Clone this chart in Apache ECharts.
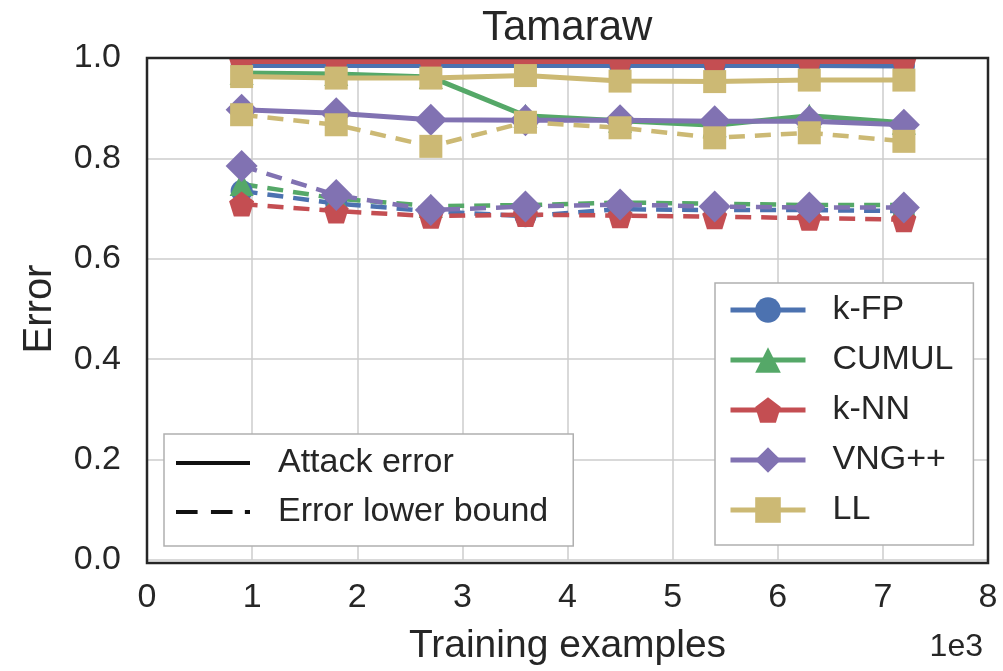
<!DOCTYPE html>
<html><head><meta charset="utf-8">
<script src="https://cdn.jsdelivr.net/npm/echarts@6/dist/echarts.min.js"></script>
<style>html,body{margin:0;padding:0;background:#fff}#c{width:1003px;height:671px}</style>
</head><body><div id="c"></div>
<script>
// ---- data ----
const trainingExamples = [900, 1800, 2700, 3600, 4500, 5400, 6300, 7200];
const xTickLabels = ['0','1','2','3','4','5','6','7','8'];
const yTickLabels = ['0.0','0.2','0.4','0.6','0.8','1.0'];
const methods = ['k-FP', 'CUMUL', 'k-NN', 'VNG++', 'LL'];

const kfpAttack   = [0.985, 0.985, 0.985, 0.985, 0.985, 0.985, 0.985, 0.984];
const kfpBound    = [0.735, 0.710, 0.695, 0.685, 0.699, 0.697, 0.697, 0.695];
const cumulAttack = [0.970, 0.968, 0.962, 0.885, 0.875, 0.866, 0.885, 0.871];
const cumulBound  = [0.749, 0.720, 0.705, 0.707, 0.712, 0.710, 0.707, 0.707];
const knnAttack   = [0.993, 0.993, 0.993, 0.993, 0.993, 0.993, 0.993, 0.993];
const knnBound    = [0.709, 0.695, 0.685, 0.688, 0.686, 0.684, 0.681, 0.678];
const vngAttack   = [0.897, 0.890, 0.877, 0.876, 0.876, 0.874, 0.874, 0.867];
const vngBound    = [0.785, 0.727, 0.697, 0.704, 0.708, 0.704, 0.702, 0.702];
const llAttack    = [0.963, 0.960, 0.960, 0.965, 0.954, 0.953, 0.956, 0.956];
const llBound     = [0.887, 0.867, 0.824, 0.872, 0.861, 0.841, 0.851, 0.834];

const styleLegend = ['Attack error', 'Error lower bound'];

// ---- styling ----
const FONT = 'Liberation Sans, Arial, sans-serif';
const TXT = '#262626';
const colors = ['#4C72B0', '#55A868', '#C44E52', '#8172B2', '#CCB974'];
const pentagon = 'path://M0,-1 L0.951,-0.309 L0.588,0.809 L-0.588,0.809 L-0.951,-0.309 Z';
const symbols = ['circle', 'triangle', pentagon, 'diamond', 'rect'];
const symbolSizes = [22, 24, 25, 32, 23];
const attackData = [kfpAttack, cumulAttack, knnAttack, vngAttack, llAttack];
const boundData = [kfpBound, cumulBound, knnBound, vngBound, llBound];

function pairs(vals) { return trainingExamples.map((x, i) => [x, vals[i]]); }

const series = [];
methods.forEach((m, k) => {
  [[attackData[k], 'solid', 5], [boundData[k], [16, 10], 4.5]].forEach(([vals, type, w]) => {
    series.push({
      name: m, type: 'line', data: pairs(vals),
      symbol: symbols[k], symbolSize: symbolSizes[k], showSymbol: true,
      color: colors[k],
      lineStyle: { color: colors[k], width: w, type: type },
      itemStyle: { color: colors[k], borderWidth: 0 },
      emphasis: { disabled: true }, z: 2
    });
  });
});
series.push({ name: styleLegend[0], type: 'line', data: [], color: '#111',
  lineStyle: { color: '#111', width: 4 }, itemStyle: { color: '#111' }, symbol: 'none' });
series.push({ name: styleLegend[1], type: 'line', data: [], color: '#111',
  lineStyle: { color: '#111', width: 4, type: [16, 10] }, itemStyle: { color: '#111' }, symbol: 'none' });

const G = { left: 147, top: 58, width: 841, height: 505 };

const chart = echarts.init(document.getElementById('c'), null, { renderer: 'canvas' });
chart.setOption({
  animation: false,
  backgroundColor: '#fff',
  textStyle: { fontFamily: FONT },
  title: [
    { text: 'Tamaraw', left: 477, top: 2, z: 70, textStyle: { fontFamily: FONT, fontSize: 42, fontWeight: 'normal', color: TXT } },
    { text: '1e3', right: 15, top: 626, textStyle: { fontFamily: FONT, fontSize: 32, fontWeight: 'normal', color: TXT } }
  ],
  grid: { left: G.left, top: G.top, width: G.width, height: G.height, containLabel: false },
  xAxis: {
    type: 'value', min: 0, max: 8000, interval: 1000,
    name: 'Training examples', nameLocation: 'middle', nameGap: 67,
    nameTextStyle: { fontFamily: FONT, fontSize: 39, color: TXT },
    axisLine: { show: false }, axisTick: { show: false },
    axisLabel: { fontFamily: FONT, fontSize: 34, color: TXT, margin: 21,
      formatter: v => xTickLabels[Math.round(v / 1000)] },
    splitLine: { show: true, lineStyle: { color: '#cccccc', width: 1.5 } }
  },
  yAxis: {
    type: 'value', min: 0, max: 1, interval: 0.2,
    name: 'Error', nameLocation: 'middle', nameGap: 87,
    nameTextStyle: { fontFamily: FONT, fontSize: 40, color: TXT },
    axisLine: { show: false }, axisTick: { show: false },
    axisLabel: { fontFamily: FONT, fontSize: 34, color: TXT, margin: 26,
      formatter: v => yTickLabels[Math.round(v / 0.2)] },
    splitLine: { show: true, lineStyle: { color: '#cccccc', width: 1.5 } }
  },
  legend: [
    {
      data: methods, orient: 'vertical', left: 715, top: 283,
      itemWidth: 75, itemHeight: 32, itemGap: 16,
      padding: [10, 20, 18, 13],
      backgroundColor: '#fff', borderColor: '#b0b0b0', borderWidth: 1.5, borderRadius: 0,
      selectedMode: false,
      lineStyle: { width: 5 },
      textStyle: { fontFamily: FONT, fontSize: 34, color: TXT, lineHeight: 34, padding: [0, 0, 0, 22] }
    },
    {
      data: [
        { name: styleLegend[0], icon: 'path://M0,0h74v4h-74z' },
        { name: styleLegend[1], icon: 'path://M0,0h21v4h-21z M34,0h21v4h-21z M67,0h5v4h-5z' }
      ],
      orient: 'vertical', left: 164, top: 434,
      itemWidth: 74, itemHeight: 5, itemGap: 15,
      padding: [12, 25, 17, 12],
      backgroundColor: '#fff', borderColor: '#b0b0b0', borderWidth: 1.5, borderRadius: 0,
      selectedMode: false,
      textStyle: { fontFamily: FONT, fontSize: 34, color: TXT, lineHeight: 34, padding: [0, 0, 0, 23] }
    }
  ],
  graphic: [
    { type: 'rect', z: 50, silent: true, shape: { x: 135, y: 44, width: 866, height: 13 }, style: { fill: '#fff' } },
    { type: 'rect', z: 60, silent: true, shape: { x: G.left, y: G.top, width: G.width, height: G.height },
      style: { fill: 'none', stroke: '#262626', lineWidth: 2.5 } }
  ],
  series: series
});
</script></body></html>
